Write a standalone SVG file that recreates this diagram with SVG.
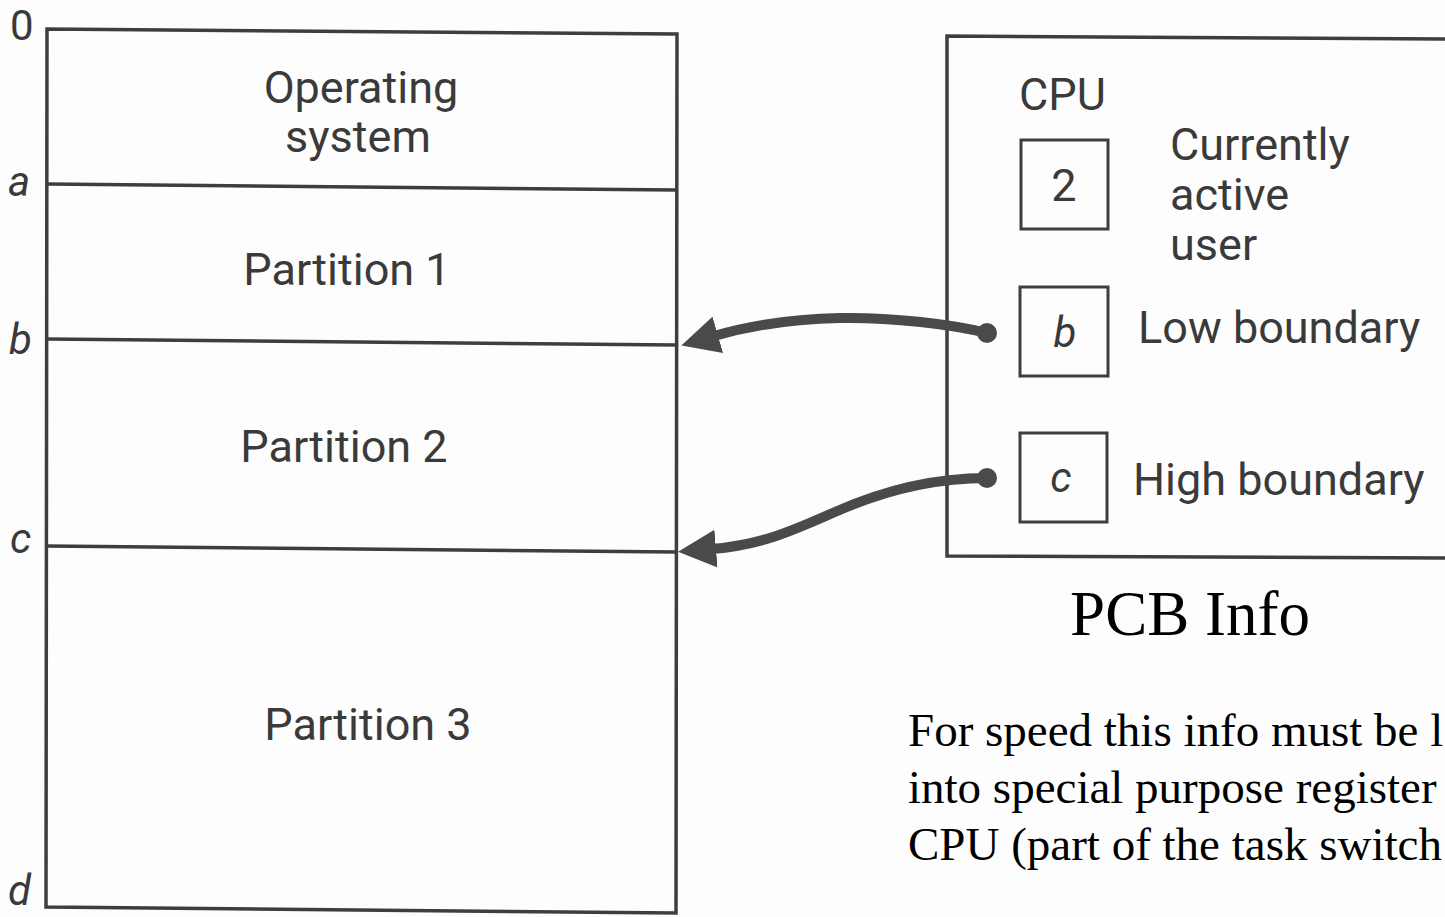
<svg xmlns="http://www.w3.org/2000/svg" width="1445" height="917" viewBox="0 0 1445 917">
  <style>
    .frame { fill: none; stroke: #3e3e3e; stroke-width: 3.5; stroke-linejoin: miter; }
    .reg { fill: none; stroke: #3e3e3e; stroke-width: 3; }
    .lbl { font-family: Roboto, "Open Sans", sans-serif; font-size: 45px; fill: #3a3a3a; }
    .addr { font-family: Roboto, "Open Sans", sans-serif; font-size: 42px; fill: #3a3a3a; font-style: italic; }
    .serif { font-family: "Liberation Serif", "Times New Roman", serif; fill: #000; }
    .wire { fill: none; stroke: #4a4a4a; stroke-width: 10; stroke-linecap: butt; }
    .dot { fill: #4a4a4a; }
  </style>
  <defs>
    <marker id="head" markerUnits="userSpaceOnUse" viewBox="0 0 40 38" markerWidth="40" markerHeight="38" refX="4" refY="19" orient="auto">
      <path d="M0,0 L38,19 L0,38 Z" fill="#4a4a4a"/>
    </marker>
  </defs>

  <rect width="1445" height="917" fill="#fdfdfd"/>

  <!-- memory map -->
  <g id="memory">
    <path class="frame" d="M47,29 L677,34 L676,913 L46,907 Z"/>
    <path class="frame" d="M47,184 L677,190"/>
    <path class="frame" d="M47,339 L677,345"/>
    <path class="frame" d="M47,546 L677,552"/>
  </g>

  <g id="addresses">
    <text x="10" y="40" style="font-family: Roboto, 'Open Sans', sans-serif; font-size: 42px; fill: #3a3a3a;">0</text>
    <text class="addr" x="8" y="196">a</text>
    <text class="addr" x="9" y="354">b</text>
    <text class="addr" x="10" y="553">c</text>
    <text class="addr" x="8" y="905">d</text>
  </g>

  <g id="os">
    <text class="lbl" x="361" y="103" text-anchor="middle">Operating</text>
    <text class="lbl" x="358" y="152" text-anchor="middle">system</text>
  </g>
  <g id="partition1">
    <text class="lbl" x="347" y="285" text-anchor="middle">Partition 1</text>
  </g>
  <g id="partition2">
    <text class="lbl" x="344" y="462" text-anchor="middle">Partition 2</text>
  </g>
  <g id="partition3">
    <text class="lbl" x="368" y="740" text-anchor="middle">Partition 3</text>
  </g>

  <!-- CPU registers -->
  <g id="cpu">
    <path class="frame" d="M1450,39 L947,36 L947,556 L1450,558"/>
    <text class="lbl" x="1019" y="110">CPU</text>
  </g>
  <g id="reg-user">
    <rect class="reg" x="1021" y="140" width="87" height="89"/>
    <text class="lbl" x="1064" y="201" text-anchor="middle">2</text>
    <text class="lbl" x="1170" y="160">Currently</text>
    <text class="lbl" x="1170" y="210">active</text>
    <text class="lbl" x="1170" y="260">user</text>
  </g>
  <g id="reg-low">
    <rect class="reg" x="1020" y="287" width="88" height="89"/>
    <text class="addr" x="1065" y="347" text-anchor="middle">b</text>
    <text class="lbl" x="1138" y="343">Low boundary</text>
  </g>
  <g id="reg-high">
    <rect class="reg" x="1020" y="433" width="87" height="89"/>
    <text class="addr" x="1061" y="492" text-anchor="middle">c</text>
    <text class="lbl" x="1133" y="495">High boundary</text>
  </g>

  <!-- register-to-boundary connectors -->
  <g id="connectors">
    <path class="wire" d="M987,333 C950,324 890,317 840,318 C790,319 745,327 714,336" marker-end="url(#head)"/>
    <circle class="dot" cx="987" cy="333" r="10"/>
    <path class="wire" d="M987,478 C930,478 880,492 835,512 C790,532 760,545 712,549" marker-end="url(#head)"/>
    <circle class="dot" cx="987" cy="478" r="10"/>
  </g>

  <g id="notes">
    <text class="serif" x="1190" y="635" font-size="63" text-anchor="middle">PCB Info</text>
    <text class="serif" x="908" y="746" font-size="47">For speed this info must be l</text>
    <text class="serif" x="908" y="803" font-size="47">into special purpose register</text>
    <text class="serif" x="908" y="860" font-size="47">CPU (part of the task switch</text>
  </g>
</svg>
